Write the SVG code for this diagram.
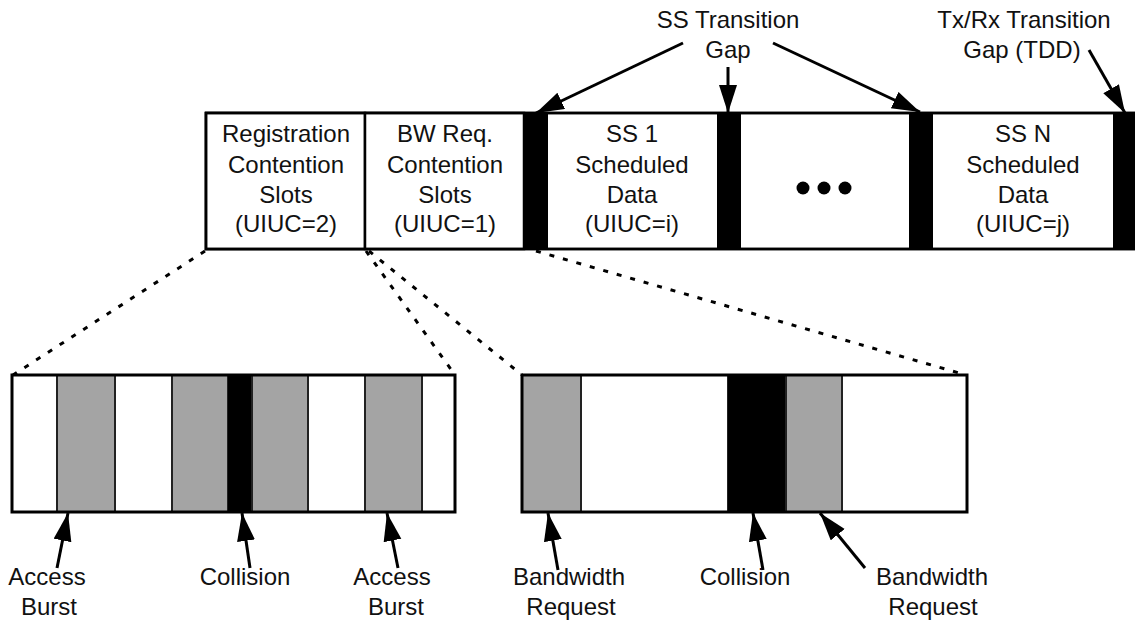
<svg xmlns="http://www.w3.org/2000/svg" width="1135" height="624" viewBox="0 0 1135 624">
  <defs>
    <marker id="head" markerUnits="userSpaceOnUse" markerWidth="30" markerHeight="20" refX="28" refY="9" orient="auto">
      <path d="M0,0 L28,9 L0,18 Z" fill="#000"/>
    </marker>
    <style>
      text { font-family: "Liberation Sans", Arial, sans-serif; font-size: 24px; fill: #111; text-anchor: middle; }
      .cell { fill: #fff; stroke: #000; stroke-width: 2.5; }
      .gap { fill: #000; }
      .slot { fill: #a4a4a4; stroke: #222; stroke-width: 2; }
      .blank { fill: #fff; stroke: #222; stroke-width: 2; }
      .frame { fill: none; stroke: #000; stroke-width: 3; }
      .ptr { stroke: #000; stroke-width: 3; fill: none; marker-end: url(#head); }
      .zoom { stroke: #000; stroke-width: 3; stroke-dasharray: 5 9; fill: none; }
    </style>
  </defs>
  <rect width="1135" height="624" fill="#fff"/>

  <!-- Uplink subframe -->
  <g id="subframe">
    <rect class="cell" x="206" y="113" width="935" height="136"/>
  </g>
  <g id="reg-slots">
    <rect class="cell" x="206" y="113" width="159" height="136"/>
    <text x="286" y="142">Registration</text>
    <text x="286" y="173">Contention</text>
    <text x="286" y="203">Slots</text>
    <text x="286" y="232">(UIUC=2)</text>
  </g>
  <g id="bw-slots">
    <rect class="cell" x="365" y="113" width="159" height="136"/>
    <text x="445" y="142">BW Req.</text>
    <text x="445" y="173">Contention</text>
    <text x="445" y="203">Slots</text>
    <text x="445" y="232">(UIUC=1)</text>
  </g>
  <g id="gap1"><rect class="gap" x="523" y="113" width="25" height="136"/></g>
  <g id="ss1">
    <text x="632" y="142">SS 1</text>
    <text x="632" y="173">Scheduled</text>
    <text x="632" y="203">Data</text>
    <text x="632" y="232">(UIUC=i)</text>
  </g>
  <g id="gap2"><rect class="gap" x="717" y="113" width="24" height="136"/></g>
  <g id="ellipsis">
    <circle cx="803" cy="188" r="6.5" fill="#000"/>
    <circle cx="824" cy="188" r="6.5" fill="#000"/>
    <circle cx="845" cy="188" r="6.5" fill="#000"/>
  </g>
  <g id="gap3"><rect class="gap" x="909" y="113" width="24" height="136"/></g>
  <g id="ssn">
    <text x="1023" y="142">SS N</text>
    <text x="1023" y="173">Scheduled</text>
    <text x="1023" y="203">Data</text>
    <text x="1023" y="232">(UIUC=j)</text>
  </g>
  <g id="gap-tdd"><rect class="gap" x="1113" y="113" width="22" height="136"/></g>
  <rect x="206" y="113" width="935" height="136" fill="none" stroke="#000" stroke-width="2.5"/>

  <!-- Gap labels -->
  <g id="ss-gap-label">
    <text x="728" y="28">SS Transition</text>
    <text x="728" y="58">Gap</text>
  </g>
  <g id="tdd-gap-label">
    <text x="1024" y="28">Tx/Rx Transition</text>
    <text x="1022" y="58">Gap (TDD)</text>
  </g>

  <!-- Registration contention detail -->
  <g id="reg-detail">
    <rect class="blank" x="12" y="375" width="45" height="137"/>
    <rect class="slot" x="57" y="375" width="58" height="137"/>
    <rect class="blank" x="115" y="375" width="57" height="137"/>
    <rect class="slot" x="172" y="375" width="56" height="137"/>
    <rect class="gap" x="228" y="375" width="24" height="137"/>
    <rect class="slot" x="252" y="375" width="56" height="137"/>
    <rect class="blank" x="308" y="375" width="57" height="137"/>
    <rect class="slot" x="365" y="375" width="57" height="137"/>
    <rect class="blank" x="422" y="375" width="33" height="137"/>
    <rect class="frame" x="12" y="375" width="443" height="137"/>
  </g>

  <!-- Bandwidth request contention detail -->
  <g id="bw-detail">
    <rect class="slot" x="522" y="375" width="59" height="137"/>
    <rect class="blank" x="581" y="375" width="147" height="137"/>
    <rect class="gap" x="728" y="375" width="58" height="137"/>
    <rect class="slot" x="786" y="375" width="56" height="137"/>
    <rect class="blank" x="842" y="375" width="125" height="137"/>
    <rect class="frame" x="522" y="375" width="445" height="137"/>
  </g>

  <!-- Slot labels -->
  <g id="label-access-1"><text x="47" y="585">Access</text><text x="49" y="615">Burst</text></g>
  <g id="label-collision-1"><text x="245" y="585">Collision</text></g>
  <g id="label-access-2"><text x="392" y="585">Access</text><text x="396" y="615">Burst</text></g>
  <g id="label-bw-1"><text x="569" y="585">Bandwidth</text><text x="571" y="615">Request</text></g>
  <g id="label-collision-2"><text x="745" y="585">Collision</text></g>
  <g id="label-bw-2"><text x="932" y="585">Bandwidth</text><text x="933" y="615">Request</text></g>

  <!-- Connectors -->
  <g id="connectors">
    <line class="zoom" x1="205" y1="251" x2="13" y2="375"/>
    <line class="zoom" x1="366" y1="251" x2="455" y2="375"/>
    <line class="zoom" x1="369" y1="251" x2="522" y2="375"/>
    <line class="zoom" x1="536" y1="251" x2="966" y2="375"/>

    <line class="ptr" x1="683" y1="43" x2="536" y2="113"/>
    <line class="ptr" x1="728" y1="67" x2="728" y2="113"/>
    <line class="ptr" x1="773" y1="43" x2="920" y2="112"/>
    <line class="ptr" x1="1089" y1="50" x2="1125" y2="113"/>

    <line class="ptr" x1="57" y1="568" x2="68" y2="513"/>
    <line class="ptr" x1="250" y1="568" x2="242" y2="513"/>
    <line class="ptr" x1="398" y1="568" x2="387" y2="513"/>
    <line class="ptr" x1="558" y1="570" x2="548" y2="513"/>
    <line class="ptr" x1="763" y1="570" x2="753" y2="513"/>
    <line class="ptr" x1="865" y1="568" x2="820" y2="513"/>
  </g>
</svg>
